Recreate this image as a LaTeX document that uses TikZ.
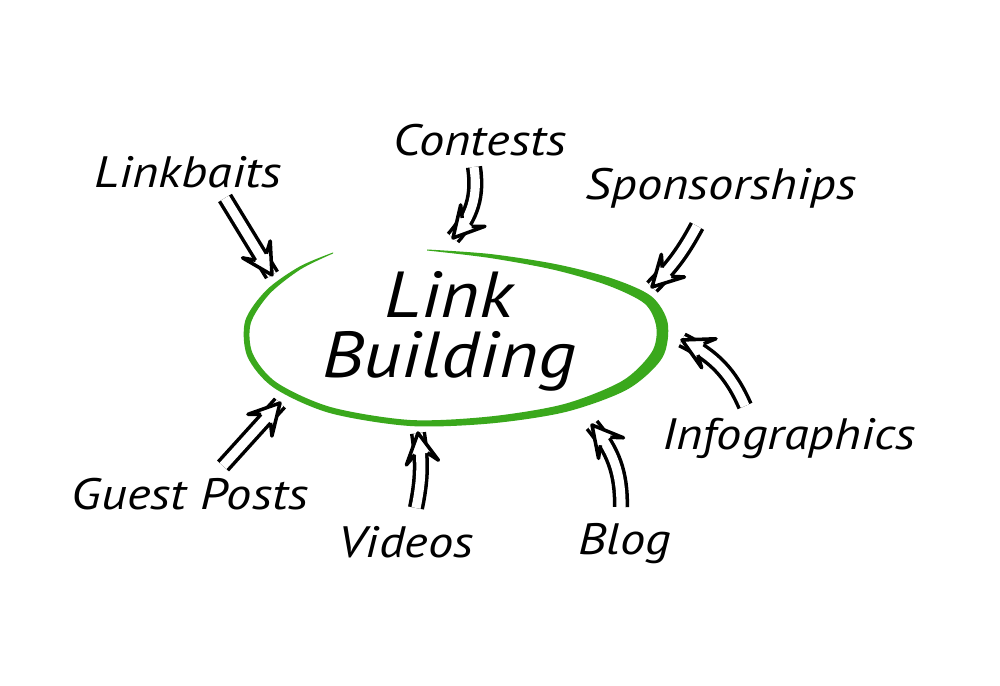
\documentclass[tikz,border=0pt]{standalone}
\usepackage{fontspec}
\setmainfont{PT Sans}[FakeStretch=1.15]
\usepackage{tikz}
\usetikzlibrary{decorations.markings,positioning,calc}
\definecolor{ringgreen}{RGB}{58,168,28}

\begin{document}
\begin{tikzpicture}[x=0.01cm,y=-0.01cm,
    every node/.style={font=\fontsize{12.5}{15}\selectfont\itshape,inner sep=0pt},
    hub/.style={font=\fontsize{18.5}{17}\selectfont\itshape,align=center},
    twin/.style={draw,line width=1pt,double=white,double distance=2.6pt,postaction={decorate}},
    decoration={markings,mark=at position 1 with {
        \fill[white] (-6pt,2.8pt) -- (0,0) -- (-6pt,-2.8pt) -- cycle;
        \draw[line width=1pt,line join=round] (-6pt,1.8pt) -- (-8.5pt,4.6pt) -- (0,0) -- (-8.5pt,-4.6pt) -- (-6pt,-1.8pt);}}]

    \fill[white] (0,0) rectangle (1000,686);

    \node[anchor=base] (linkbaits) at (188,188) {Linkbaits};
    \node[anchor=base] (contests) at (480,156) {Contests};
    \node[anchor=base] (sponsorships) at (721,200) {Sponsorships};
    \node[anchor=base] (infographics) at (789,450) {Infographics};
    \node[anchor=base] (guestposts) at (190,510) {Guest Posts};
    \node[anchor=base] (videos) at (406,558) {Videos};
    \node[anchor=base] (blog) at (625,555) {Blog};
    \node[hub] (linkbuilding) at (449,331) {Link\\Building};

    \fill[ringgreen] plot[smooth] coordinates {(333,252.5) (299.5,266.6) (266.5,290) (245.2,320.8)
        (247.3,356.4) (273.4,387.5) (329.2,412.9) (409.7,426) (490.2,423.5) (566,411.9)
        (627.6,389.3) (662.3,357.8) (667.7,323.1) (651.4,296.3) (611.8,278.4) (555.7,264.1)
        (490.1,254) (427,249.5)}
        -- plot[smooth] coordinates {(427,250.5) (489.9,258) (554.3,269.9) (608.2,285.6)
        (644.7,303.7) (656.3,326.9) (651.7,352.2) (622.4,380.8) (564,404.1) (489.8,416.5)
        (410.3,420) (330.8,407.1) (276.6,382.5) (252.7,353.6) (250.8,323.2) (269.5,294)
        (300.5,269.4) (333,253.5)} -- cycle;

    \coordinate (linkbaits-t) at (225,198);
    \coordinate (linkbaits-h) at (272,275);
    \coordinate (contests-t) at (474,167);
    \coordinate (contests-h) at (453,238);
    \coordinate (sponsorships-t) at (697,226);
    \coordinate (sponsorships-h) at (652,287);
    \coordinate (infographics-t) at (745,406);
    \coordinate (infographics-h) at (682,340);
    \coordinate (blog-t) at (621,507);
    \coordinate (blog-h) at (592,425);
    \coordinate (videos-t) at (416,508);
    \coordinate (videos-h) at (418,433);
    \coordinate (guestposts-t) at (223,466);
    \coordinate (guestposts-h) at (280,403);

    \draw[twin] (linkbaits-t) -- (linkbaits-h);
    \draw[twin] (contests-t) to[bend left=25] (contests-h);
    \draw[twin] (sponsorships-t) to[bend left=8] (sponsorships-h);
    \draw[twin] (infographics-t) to[bend right=20] (infographics-h);
    \draw[twin] (blog-t) to[bend right=20] (blog-h);
    \draw[twin] (videos-t) to[bend right=10] (videos-h);
    \draw[twin] (guestposts-t) -- (guestposts-h);
\end{tikzpicture}
\end{document}
